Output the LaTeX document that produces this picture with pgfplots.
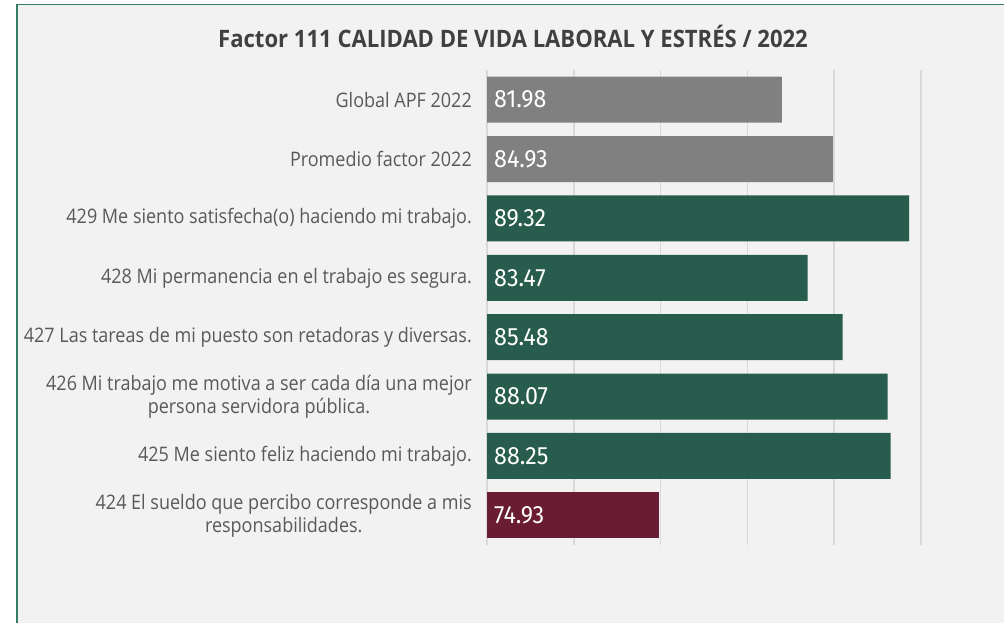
\documentclass[border=0pt]{standalone}
\usepackage{pgfplots}
\pgfplotsset{compat=1.18}
\usepackage{fontspec}
\setmainfont{Open Sans}
\newfontfamily\labelfont[FakeStretch=0.9]{Open Sans}
\newfontfamily\titlefont[FakeStretch=0.92]{Open Sans}
\newfontfamily\barfont[FakeStretch=0.93]{Fira Sans}
\definecolor{bggray}{HTML}{F2F2F2}
\definecolor{framegreen}{RGB}{53,125,98}
\definecolor{gridgray}{HTML}{D9D9D9}
\definecolor{bargray}{HTML}{808080}
\definecolor{bargreen}{HTML}{285C4D}
\definecolor{barred}{HTML}{691C32}
\definecolor{labeltext}{HTML}{595959}
\definecolor{titletext}{HTML}{404040}
\begin{document}
\begin{tikzpicture}[x=1bp,y=1bp]
\useasboundingbox (0,0) rectangle (1004,623);
\fill[white] (0,0) rectangle (1004,623);
\fill[bggray] (17,0) rectangle (1004,618.5);
\draw[framegreen, line width=1.6bp] (1004,618.5) -- (17,618.5) -- (17,0);
\node[font=\titlefont\bfseries\fontsize{24bp}{28bp}\selectfont, text=titletext] at (513,587) {Factor 111 CALIDAD DE VIDA LABORAL Y ESTRÉS / 2022};
\begin{axis}[
  at={(487bp,78bp)}, anchor=south west,
  scale only axis, width=434bp, height=475bp,
  xmin=65, xmax=90, ymin=-0.5, ymax=7.5,
  y dir=reverse,
  axis line style={draw=none},
  xtick={65,70,75,80,85,90}, xticklabels={},
  xmajorgrids, grid style={gridgray, line width=1.5bp},
  major tick length=0pt,
  ytick={0,1,2,3,4,5,6,7},
  yticklabels={
    {Global APF 2022},
    {Promedio factor 2022},
    {429 Me siento satisfecha(o) haciendo mi trabajo.},
    {428 Mi permanencia en el trabajo es segura.},
    {427 Las tareas de mi puesto son retadoras y diversas.},
    {426 Mi trabajo me motiva a ser cada día una mejor\\persona servidora pública.},
    {425 Me siento feliz haciendo mi trabajo.},
    {424 El sueldo que percibo corresponde a mis\\responsabilidades.}},
  yticklabel style={align=center, font=\labelfont\fontsize{20bp}{23bp}\selectfont, text=labeltext, inner xsep=0pt, xshift=-15bp},
  clip=false,
]
\addplot[xbar, bar width=46bp, bar shift=0pt, fill=bargray, draw=none] coordinates {(81.98,0) (84.93,1)};
\addplot[xbar, bar width=46bp, bar shift=0pt, fill=bargreen, draw=none] coordinates {(89.32,2) (83.47,3) (85.48,4) (88.07,5) (88.25,6)};
\addplot[xbar, bar width=46bp, bar shift=0pt, fill=barred, draw=none] coordinates {(74.93,7)};
\addplot[draw=none, mark=none, point meta=explicit symbolic, nodes near coords,
  nodes near coords style={anchor=west, xshift=7bp, text=white, inner sep=0pt, font=\barfont\fontsize{25bp}{28bp}\selectfont}]
  coordinates {(65,0)[81.98] (65,1)[84.93] (65,2)[89.32] (65,3)[83.47] (65,4)[85.48] (65,5)[88.07] (65,6)[88.25] (65,7)[74.93]};
\end{axis}
\end{tikzpicture}
\end{document}
